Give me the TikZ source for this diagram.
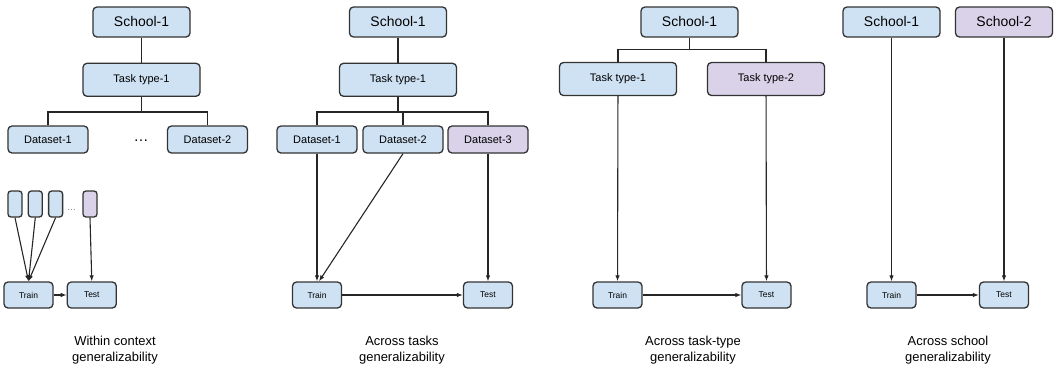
\documentclass[tikz,border=0pt]{standalone}
\usepackage{fontspec}
\setmainfont{Liberation Sans}
\usepackage{tikz}
\usetikzlibrary{positioning,arrows.meta}
\definecolor{boxblue}{HTML}{CFE2F3}
\definecolor{boxpurple}{HTML}{D9D2E9}
\definecolor{boxline}{HTML}{333333}
\tikzset{>={Latex[length=6bp,width=4.5bp]}}
\tikzset{
  box/.style={draw=boxline, line width=1.3bp, rounded corners=4bp, fill=boxblue,
    inner sep=0pt, align=center},
  held/.style={fill=boxpurple},
  school/.style={box, minimum width=97bp, minimum height=30bp, font=\fontsize{14}{16}\selectfont},
  tasktype/.style={box, minimum width=117bp, minimum height=33bp, font=\fontsize{11}{13}\selectfont},
  dataset/.style={box, minimum width=80bp, minimum height=27bp, font=\fontsize{11}{13}\selectfont},
  split/.style={box, minimum width=14bp, minimum height=26bp, rounded corners=3bp},
  phase/.style={box, minimum width=49bp, minimum height=26bp, font=\fontsize{8.5}{10}\selectfont},
  caption/.style={align=center, font=\fontsize{13}{16}\selectfont},
  link/.style={draw=black!85, line width=1.1bp},
}
\begin{document}
\begin{tikzpicture}[x=1bp, y=-1bp]
  \useasboundingbox (0,0) rectangle (1055,372);

  % Within context
  \node[school]                          (s1a)  at (141.5,22)  {School-1};
  \node[tasktype, below=25bp of s1a]     (t1a)                 {Task type-1};
  \node[dataset]                         (d1a)  at (48,139.5)  {Dataset-1};
  \node[dataset]                         (d2a)  at (207.5,139.5) {Dataset-2};
  \node[font=\fontsize{15}{16}\selectfont] (dda) at (141,141)  {\ldots};
  \node[split]                           (p1a)  at (15,204)    {};
  \node[split, right=5bp of p1a]         (p2a)                 {};
  \node[split, right=5bp of p2a]         (p3a)                 {};
  \node[split, held]                     (p4a)  at (90,204)    {};
  \node[text=black!55, font=\fontsize{9}{10}\selectfont] (pda) at (71.5,210) {\ldots};
  \node[phase]                           (tra)  at (28.5,295)  {Train};
  \node[phase, right=13bp of tra]        (tea)                 {Test};
  \node[caption]                         (ca)   at (115,350)   {Within context\\generalizability};

  \draw[link] (s1a) -- (t1a);
  \draw[link] (t1a.south) -- ++(0,15) coordinate (ba);
  \draw[link] (d1a.north) |- (ba) -| (d2a.north);
  \draw[link,->] (p1a.south) -- (tra.north);
  \draw[link,->] (p2a.south) -- (tra.north);
  \draw[link,->] (p3a.south) -- (tra.north);
  \draw[link,->] (p4a.south) -- (tea.north);
  \draw[link,->] (tra) -- (tea);

  % Across tasks
  \node[school]                          (s1b)  at (398,22)    {School-1};
  \node[tasktype, below=25bp of s1b]     (t1b)                 {Task type-1};
  \node[dataset]                         (d1b)  at (317,139.5) {Dataset-1};
  \node[dataset]                         (d2b)  at (403,139.5) {Dataset-2};
  \node[dataset, held]                   (d3b)  at (488,139.5) {Dataset-3};
  \node[phase]                           (trb)  at (317,295)   {Train};
  \node[phase]                           (teb)  at (488,295)   {Test};
  \node[caption]                         (cb)   at (402,350)   {Across tasks\\generalizability};

  \draw[link] (s1b) -- (t1b);
  \draw[link] (t1b.south) -- ++(0,15) coordinate (bb);
  \draw[link] (d1b.north) |- (bb) -| (d3b.north);
  \draw[link] (bb) -| (d2b.north);
  \draw[link,->] (d1b) -- (trb);
  \draw[link,->] (d2b.south) -- ([xshift=2bp]trb.north);
  \draw[link,->] (d3b) -- (teb);
  \draw[link,->] (trb) -- (teb);

  % Across task types
  \node[school]                          (s1c)  at (689.5,22)  {School-1};
  \node[tasktype]                        (t1c)  at (618,79)    {Task type-1};
  \node[tasktype, held]                  (t2c)  at (766,79)    {Task type-2};
  \node[phase]                           (trc)  at (617.5,295) {Train};
  \node[phase]                           (tec)  at (766.5,295) {Test};
  \node[caption]                         (cc)   at (693,350)   {Across task-type\\generalizability};

  \draw[link] (s1c.south) -- ++(0,12) coordinate (bc);
  \draw[link] (t1c.north) |- (bc) -| (t2c.north);
  \draw[link,->] (t1c) -- (trc);
  \draw[link,->] (t2c) -- (tec);
  \draw[link,->] (trc) -- (tec);

  % Across schools
  \node[school]                          (s1d)  at (891.5,22)  {School-1};
  \node[school, held]                    (s2d)  at (1004,22)   {School-2};
  \node[phase]                           (trd)  at (891.5,295) {Train};
  \node[phase]                           (ted)  at (1004,295)  {Test};
  \node[caption]                         (cd)   at (948,350)   {Across school\\generalizability};

  \draw[link,->] (s1d) -- (trd);
  \draw[link,->] (s2d) -- (ted);
  \draw[link,->] (trd) -- (ted);
\end{tikzpicture}
\end{document}
